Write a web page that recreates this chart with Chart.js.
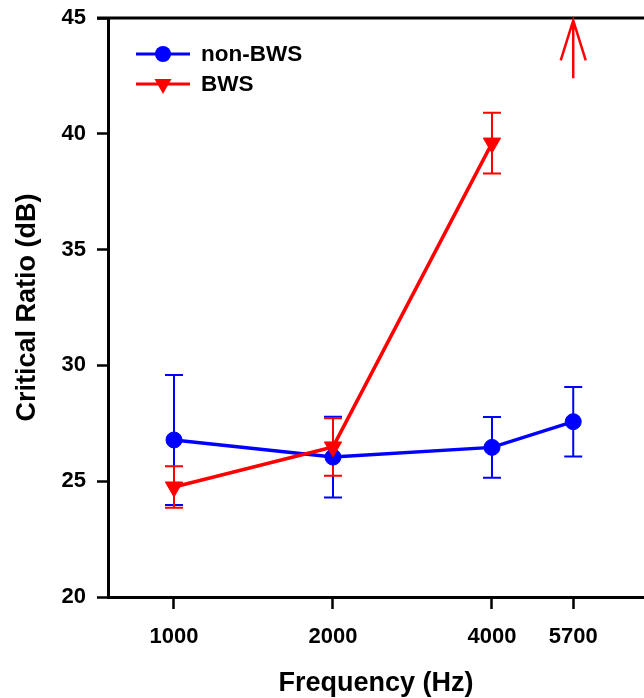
<!DOCTYPE html>
<html>
<head>
<meta charset="utf-8">
<script src="https://cdn.jsdelivr.net/npm/chart.js@4.4.1/dist/chart.umd.min.js"></script>
<style>
    html, body { margin: 0; padding: 0; background: #fff; overflow: hidden; }
    #ratioChart { display: block; }
</style>
</head>
<body>
<canvas id="ratioChart" width="644" height="698"></canvas>
<script>
// ===== Data =====
const freqs = [1000, 2000, 4000, 5700];
const xTicks = [1000, 2000, 4000, 5700];
const yTicks = [20, 25, 30, 35, 40, 45];

const nonBws = [26.78, 26.04, 26.46, 27.57];
const nonBwsErr = [2.81, 1.74, 1.31, 1.5];

const bws = [24.75, 26.48, 39.6, null];
const bwsErr = [0.9, 1.24, 1.31, null];

// BWS at 5700 Hz is off the scale: drawn as an arrow
const arrowFreq = 5700;
const arrowRange = [42.4, 44.9];

const FONT = "'Liberation Sans', Arial, Helvetica, sans-serif";
const BLUE = '#0000ff';
const RED = '#ff0000';

function toPoints(values) {
    return freqs.map((f, i) => ({ x: f, y: values[i] }));
}

// keep the plot area where the layout padding puts it
function noEdgePadding(scale) {
    scale.paddingTop = 0;
    scale.paddingBottom = 0;
    scale.paddingLeft = 0;
    scale.paddingRight = 0;
}

// ===== Error bars (drawn under the markers) =====
const errorBarPlugin = {
    id: 'errorBars',
    beforeDatasetsDraw(chart) {
        const ctx = chart.ctx;
        const xs = chart.scales.x, ys = chart.scales.y;
        chart.data.datasets.forEach(ds => {
            ctx.save();
            ctx.strokeStyle = ds.borderColor;
            ctx.lineWidth = 2;
            freqs.forEach((f, i) => {
                const v = ds.values[i], e = ds.errors[i];
                if (v == null || e == null) return;
                const px = xs.getPixelForValue(f);
                const top = ys.getPixelForValue(v + e);
                const bot = ys.getPixelForValue(v - e);
                ctx.beginPath();
                ctx.moveTo(px, top); ctx.lineTo(px, bot);
                ctx.moveTo(px - 9, top); ctx.lineTo(px + 9, top);
                ctx.moveTo(px - 9, bot); ctx.lineTo(px + 9, bot);
                ctx.stroke();
            });
            ctx.restore();
        });
    }
};

// ===== Frame, arrow and legend =====
const decorPlugin = {
    id: 'decor',
    afterDraw(chart) {
        const ctx = chart.ctx;
        const area = chart.chartArea;
        const xs = chart.scales.x, ys = chart.scales.y;

        // top frame line
        ctx.save();
        ctx.strokeStyle = '#000';
        ctx.lineWidth = 3;
        ctx.beginPath();
        ctx.moveTo(area.left - 11, area.top);
        ctx.lineTo(area.right, area.top);
        ctx.stroke();

        // off-scale arrow
        const ax = xs.getPixelForValue(arrowFreq);
        const ay0 = ys.getPixelForValue(arrowRange[0]);
        const ay1 = ys.getPixelForValue(arrowRange[1]);
        ctx.strokeStyle = RED;
        ctx.lineWidth = 2.5;
        ctx.beginPath();
        ctx.moveTo(ax, ay0); ctx.lineTo(ax, ay1);
        ctx.moveTo(ax - 12.5, ay1 + 40); ctx.lineTo(ax, ay1); ctx.lineTo(ax + 12.5, ay1 + 40);
        ctx.stroke();

        // legend
        const items = chart.data.datasets.slice().sort((a, b) => b.order - a.order);
        items.forEach((ds, i) => {
            const y = area.top + 36 + i * 30;
            const x0 = area.left + 28, x1 = area.left + 82, cx = (x0 + x1) / 2;
            ctx.strokeStyle = ds.borderColor;
            ctx.fillStyle = ds.borderColor;
            ctx.lineWidth = 3;
            ctx.beginPath();
            ctx.moveTo(x0, y); ctx.lineTo(x1, y);
            ctx.stroke();
            ctx.beginPath();
            if (ds.pointStyle === 'circle') {
                ctx.arc(cx, y, 8, 0, Math.PI * 2);
            } else {
                ctx.moveTo(cx - 8.5, y - 5);
                ctx.lineTo(cx + 8.5, y - 5);
                ctx.lineTo(cx, y + 10);
                ctx.closePath();
            }
            ctx.fill();
            ctx.fillStyle = '#000';
            ctx.font = 'bold 22.5px ' + FONT;
            ctx.textAlign = 'left';
            ctx.textBaseline = 'middle';
            ctx.fillText(ds.label, x1 + 11, y + 1);
        });
        ctx.restore();
    }
};

// ===== Chart =====
const ctxRatio = document.getElementById('ratioChart');
new Chart(ctxRatio, {
    type: 'line',
    data: {
        datasets: [
            {
                label: 'non-BWS',
                data: toPoints(nonBws),
                values: nonBws,
                errors: nonBwsErr,
                borderColor: BLUE,
                backgroundColor: BLUE,
                borderWidth: 3.5,
                pointStyle: 'circle',
                pointRadius: 8,
                pointBorderWidth: 1,
                order: 1
            },
            {
                label: 'BWS',
                data: toPoints(bws),
                values: bws,
                errors: bwsErr,
                borderColor: RED,
                backgroundColor: RED,
                borderWidth: 3.5,
                pointStyle: 'triangle',
                pointRotation: 180,
                pointRadius: 10,
                pointBorderWidth: 1,
                spanGaps: false,
                order: 0
            }
        ]
    },
    options: {
        responsive: false,
        animation: false,
        layout: {
            autoPadding: false,
            padding: { top: 18, right: 0, left: 0, bottom: 0 }
        },
        plugins: {
            legend: { display: false },
            tooltip: { enabled: false }
        },
        scales: {
            x: {
                type: 'logarithmic',
                min: 750,
                max: 7760,
                afterBuildTicks(scale) {
                    scale.ticks = xTicks.map(v => ({ value: v }));
                },
                afterFit(scale) {
                    scale.height = 101;
                    noEdgePadding(scale);
                },
                ticks: {
                    autoSkip: false,
                    maxRotation: 0,
                    padding: 17,
                    color: '#000',
                    font: { family: FONT, size: 22, weight: 'bold', lineHeight: 1 },
                    callback: v => String(v)
                },
                grid: {
                    display: true,
                    drawOnChartArea: false,
                    drawTicks: true,
                    tickLength: 12,
                    tickWidth: 2.5,
                    tickColor: '#000'
                },
                border: { display: true, color: '#000', width: 3 },
                title: {
                    display: true,
                    text: 'Frequency (Hz)',
                    color: '#000',
                    font: { family: FONT, size: 27, weight: 'bold', lineHeight: 1 },
                    padding: { top: 0, bottom: 1 }
                }
            },
            y: {
                min: 20,
                max: 45,
                afterBuildTicks(scale) {
                    scale.ticks = yTicks.map(v => ({ value: v }));
                },
                afterFit(scale) {
                    scale.width = 108;
                    noEdgePadding(scale);
                },
                ticks: {
                    padding: 11,
                    color: '#000',
                    font: { family: FONT, size: 22, weight: 'bold', lineHeight: 1 }
                },
                grid: {
                    display: true,
                    drawOnChartArea: false,
                    drawTicks: true,
                    tickLength: 11,
                    tickWidth: 2.5,
                    tickColor: '#000'
                },
                border: { display: true, color: '#000', width: 3 },
                title: {
                    display: true,
                    text: 'Critical Ratio (dB)',
                    color: '#000',
                    font: { family: FONT, size: 27, weight: 'bold', lineHeight: 1 },
                    padding: { top: 14, bottom: 0 }
                }
            }
        }
    },
    plugins: [errorBarPlugin, decorPlugin]
});
</script>
</body>
</html>
